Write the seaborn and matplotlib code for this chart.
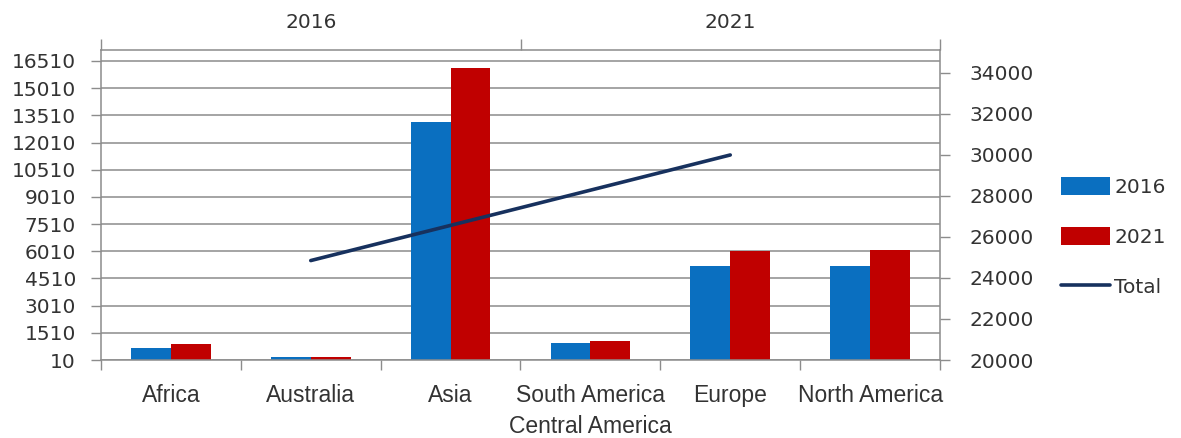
import matplotlib
matplotlib.use("Agg")
import matplotlib.pyplot as plt
import seaborn as sns
import pandas as pd
from matplotlib.patches import Patch
from matplotlib.lines import Line2D

# ---- data ----
regions = ["Africa", "Australia", "Asia", "South America\nCentral America", "Europe", "North America"]
values_2016 = [670, 160, 13130, 940, 5190, 5190]
values_2021 = [880, 170, 16110, 1050, 6010, 6070]
years = ["2016", "2021"]
totals = [24850, 30000]
left_ticks = list(range(10, 16511, 1500))
right_ticks = [20000, 22000, 24000, 26000, 28000, 30000, 32000, 34000]

BLUE = "#0A6FC0"
RED = "#C00000"
NAVY = "#17315E"
GRID = "#8C8C8C"
TXT = "#333333"

sns.set_theme(style="white")
plt.rcParams["font.family"] = ["DejaVu Sans"]

df = pd.DataFrame({
    "region": regions * 2,
    "value": values_2016 + values_2021,
    "year": ["2016"] * len(regions) + ["2021"] * len(regions),
})

fig = plt.figure(figsize=(11.81, 4.38), dpi=100)
rect = [101 / 1181, 1 - 360 / 438, (940 - 101) / 1181, (360 - 50) / 438]
ax = fig.add_axes(rect)

sns.barplot(data=df, x="region", y="value", hue="year", palette=[BLUE, RED],
            width=0.57, linewidth=0, saturation=1, ax=ax, legend=False, errorbar=None)
ax.set_xlim(-0.5, 5.5)
ax.set_ylim(10, 17117)
ax.set_yticks(left_ticks)
ax.set_yticklabels([str(t) for t in left_ticks])
ax.grid(axis="y", color=GRID, lw=1.1)
ax.set_axisbelow(True)
ax.set_xlabel("")
ax.set_ylabel("")
ax.tick_params(axis="x", which="major", length=0, pad=17, labelsize=16.5, labelcolor=TXT)
ax.set_xticks([i - 0.5 for i in range(len(regions) + 1)], minor=True)
ax.tick_params(axis="x", which="minor", length=7, width=1, color=GRID, direction="out", bottom=True)
ax.tick_params(axis="y", length=7, width=1, color=GRID, direction="out", left=True,
               labelsize=14.5, labelcolor=TXT, pad=11)
for lbl in ax.get_xticklabels():
    lbl.set_fontfamily(["Liberation Sans", "DejaVu Sans"])
    lbl.set_linespacing(1.45)
for s in ax.spines.values():
    s.set_color(GRID)
    s.set_linewidth(1.1)

# ---- secondary axes for the total line ----
ax2 = fig.add_axes(rect, frameon=False)
ax2.patch.set_visible(False)
sns.lineplot(x=years, y=totals, color=NAVY, lw=2.6, ax=ax2)
ax2.set_xlim(-0.5, 1.5)
ax2.set_ylim(20000, 35120)
ax2.xaxis.tick_top()
ax2.yaxis.tick_right()
ax2.set_xticks([0, 1])
ax2.set_xticklabels(years)
ax2.set_xticks([-0.5, 0.5, 1.5], minor=True)
ax2.tick_params(axis="x", which="major", length=0, pad=13, labelsize=14.5, labelcolor=TXT, top=True, bottom=False)
ax2.tick_params(axis="x", which="minor", length=8, width=1, color=GRID, direction="out", top=True, bottom=False)
ax2.set_yticks(right_ticks)
ax2.set_yticklabels([str(t) for t in right_ticks])
ax2.tick_params(axis="y", length=7, width=1, color=GRID, direction="out", right=True, left=False,
                labelsize=14.5, labelcolor=TXT, pad=14)
ax2.set_xlabel("")
ax2.set_ylabel("")

handles = [Patch(facecolor=BLUE, edgecolor="none"),
           Patch(facecolor=RED, edgecolor="none"),
           Line2D([0], [0], color=NAVY, lw=2.6)]
fig.legend(handles, ["2016", "2021", "Total"], loc="center left",
           bbox_to_anchor=(1061 / 1181, 1 - 237 / 438), frameon=False,
           fontsize=14.5, handlelength=2.45, handleheight=0.95, handletextpad=0.2,
           labelspacing=1.5, borderpad=0, borderaxespad=0, labelcolor=TXT)

fig.savefig("out.png", dpi=100)
